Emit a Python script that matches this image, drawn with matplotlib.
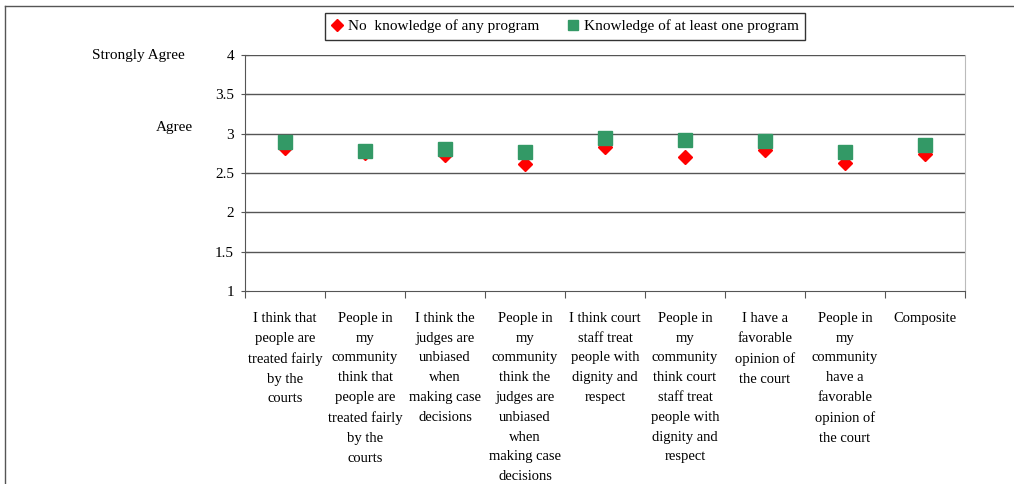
import matplotlib.pyplot as plt
from matplotlib.lines import Line2D

# data
categories = [
    "I think that\npeople are\ntreated fairly\nby the\ncourts",
    "People in\nmy\ncommunity\nthink that\npeople are\ntreated fairly\nby the\ncourts",
    "I think the\njudges are\nunbiased\nwhen\nmaking case\ndecisions",
    "People in\nmy\ncommunity\nthink the\njudges are\nunbiased\nwhen\nmaking case\ndecisions",
    "I think court\nstaff treat\npeople with\ndignity and\nrespect",
    "People in\nmy\ncommunity\nthink court\nstaff treat\npeople with\ndignity and\nrespect",
    "I have a\nfavorable\nopinion of\nthe court",
    "People in\nmy\ncommunity\nhave a\nfavorable\nopinion of\nthe court",
    "Composite",
]
no_knowledge = [2.82, 2.76, 2.73, 2.62, 2.83, 2.70, 2.79, 2.63, 2.74]
some_knowledge = [2.89, 2.78, 2.81, 2.77, 2.95, 2.92, 2.91, 2.77, 2.86]
yticks = [1, 1.5, 2, 2.5, 3, 3.5, 4]

plt.rcParams['font.family'] = ['Liberation Serif', 'DejaVu Serif']

fig = plt.figure(figsize=(10.14, 4.84), dpi=100)
ax = fig.add_axes([245/1014, 1 - 291/484, 720/1014, 236/484])

x = list(range(len(categories)))
ax.plot(x, no_knowledge, linestyle='none', marker='D', markersize=7.5,
        color='#ff0000', label='No  knowledge of any program', zorder=3)
ax.plot(x, some_knowledge, linestyle='none', marker='s', markersize=9.5,
        color='#339966', label='Knowledge of at least one program', zorder=3)

ax.set_xlim(-0.5, len(categories) - 0.5)
ax.set_ylim(1, 4)
ax.set_yticks(yticks)
ax.set_yticklabels([f"{v:g}" for v in yticks], fontsize=11)
for v in yticks[1:]:
    ax.axhline(v, color='#555555', linewidth=1, zorder=1)

ax.set_xticks([i - 0.5 for i in range(len(categories) + 1)], minor=False)
ax.set_xticklabels([])
ax.set_xticks(x, minor=True)
ax.set_xticklabels(categories, minor=True, fontsize=10.5, linespacing=1.68, va='top')
ax.tick_params(axis='x', which='minor', length=0, pad=15)
ax.tick_params(axis='x', which='major', direction='out', length=5, color='#555555')
ax.tick_params(axis='y', direction='inout', length=6, color='#555555', pad=5)

for side in ['left', 'bottom']:
    ax.spines[side].set_color('#555555')
ax.spines['top'].set_visible(False)
ax.spines['right'].set_color('#bbbbbb')

# scale names on the left
ax.text(-60/720, 4, "Strongly Agree", transform=ax.get_yaxis_transform(),
        ha='right', va='center', fontsize=11)
ax.text(-52/720, 3.08, "Agree", transform=ax.get_yaxis_transform(),
        ha='right', va='center', fontsize=11)

leg = fig.legend(loc='upper center', bbox_to_anchor=(565/1014, 1 - 5/484), ncol=2,
                 fontsize=11, frameon=True, fancybox=False, edgecolor='black',
                 handlelength=0.8, handletextpad=0.3, columnspacing=1.8,
                 borderpad=0.45, markerscale=0.8)
leg.get_frame().set_linewidth(1)

# outer frame of the figure
fig.add_artist(Line2D([5/1014, 5/1014], [0, 1 - 6/484], color='#555555', linewidth=1))
fig.add_artist(Line2D([5/1014, 1], [1 - 6/484, 1 - 6/484], color='#555555', linewidth=1))

fig.savefig('out.png', dpi=100)
